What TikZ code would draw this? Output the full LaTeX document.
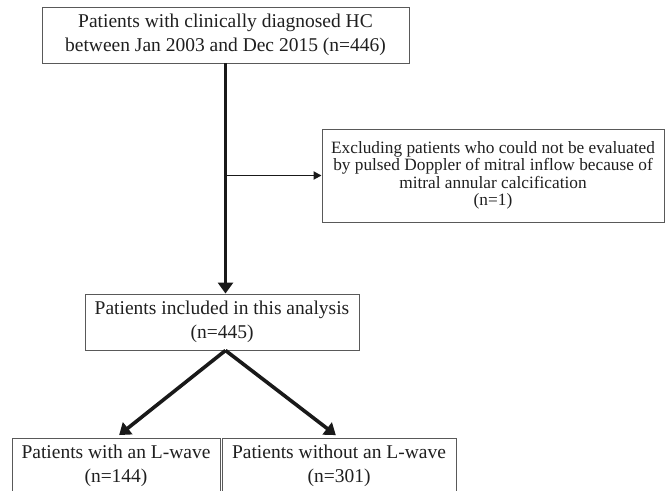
\documentclass[tikz,border=0pt]{standalone}
\usepackage{fontspec}
\setmainfont{Liberation Serif}
\usetikzlibrary{arrows.meta}
\begin{document}
\begin{tikzpicture}[x=1pt,y=-1pt,
  box/.style={draw=black!65, line width=0.9pt, align=center, inner sep=0pt,
    font=\fontsize{19.5}{24}\selectfont, text=black!88},
  smallbox/.style={box, font=\fontsize{17.3}{17.5}\selectfont},
  heavyarrow/.style={draw=black!90, line width=3.6pt, -{Triangle[length=11pt,width=15pt]}},
  lightarrow/.style={draw=black!90, line width=1.8pt, -{Triangle[length=8pt,width=8pt]}}]
\useasboundingbox (0,0) rectangle (666,490);
\clip (0,0) rectangle (666,490);
\node[box, minimum width=367pt, minimum height=56pt] (top) at (225.5,35)
  {Patients with clinically diagnosed HC\\between Jan 2003 and Dec 2015 (n=446)};
\node[smallbox, minimum width=342pt, minimum height=93pt] (excl) at (493,175.5)
  {Excluding patients who could not be evaluated\\by pulsed Doppler of mitral inflow because of\\mitral annular calcification\\(n=1)};
\node[box, minimum width=274pt, minimum height=56pt] (mid) at (222,322)
  {Patients included in this analysis\\(n=445)};
\node[box, minimum width=208pt, minimum height=56pt] (wl) at (116,466)
  {Patients with an L-wave\\(n=144)};
\node[box, minimum width=234pt, minimum height=56pt] (wol) at (339,466)
  {Patients without an L-wave\\(n=301)};
\coordinate (apex) at (mid.south -| top.south);
\draw[heavyarrow] (top.south) -- (mid.north -| top.south);
\draw[lightarrow] (excl.west -| top.south) -- (excl.west);
\draw[heavyarrow, shorten >=4pt] (apex) -- (wl.north);
\draw[heavyarrow, shorten >=4pt] (apex) -- (wol.north);
\end{tikzpicture}
\end{document}
